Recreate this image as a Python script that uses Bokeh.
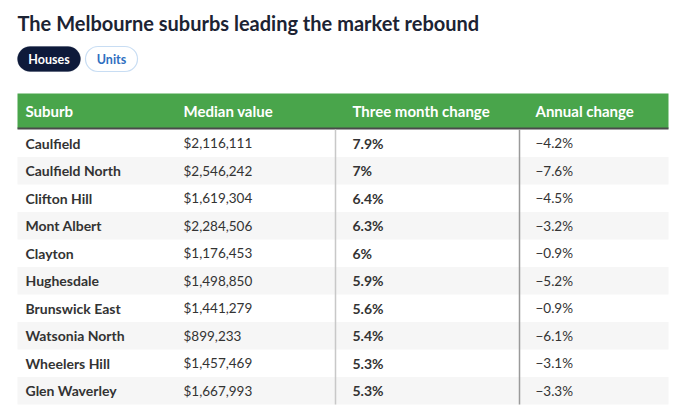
from bokeh.plotting import figure
from bokeh.models import Range1d, BoxAnnotation, ColumnDataSource
from bokeh.core.properties import value
from bokeh.embed import file_html
from bokeh.resources import INLINE

title = "The Melbourne suburbs leading the market rebound"
tabs = ["Houses", "Units"]
columns = ["Suburb", "Median value", "Three month change", "Annual change"]
suburbs = ["Caulfield", "Caulfield North", "Clifton Hill", "Mont Albert", "Clayton",
           "Hughesdale", "Brunswick East", "Watsonia North", "Wheelers Hill", "Glen Waverley"]
median_value = [2116111, 2546242, 1619304, 2284506, 1176453,
                1498850, 1441279, 899233, 1457469, 1667993]
three_month_change = [7.9, 7, 6.4, 6.3, 6, 5.9, 5.6, 5.4, 5.3, 5.3]
annual_change = [-4.2, -7.6, -4.5, -3.2, -0.9, -5.2, -0.9, -6.1, -3.1, -3.3]

W, H = 675, 411
FONT = "Lato"
p = figure(width=W, height=H, output_backend="svg", toolbar_location=None,
           x_range=Range1d(0, W), y_range=Range1d(H, 0), min_border=0)
p.axis.visible = False
p.grid.visible = False
p.outline_line_color = None
p.background_fill_color = "white"

# layout constants (pixels)
left, right = 17, 668
head_top, head_bot = 93, 128
row_h = 27.5
col_x = [25, 183, 352, 535]
n = len(suburbs)

# title
p.text(x=[17], y=[22], text=[title], text_font=value(FONT), text_font_style="bold",
       text_font_size="20px", text_color="#1c2333", text_baseline="middle")

# tabs
p.add_layout(BoxAnnotation(left=17, right=80, top=46, bottom=71, fill_color="#0e1a3a",
                           fill_alpha=1, line_color="#0e1a3a", border_radius=13,
                           level="underlay"))
p.add_layout(BoxAnnotation(left=85, right=137, top=46, bottom=71, fill_color="white",
                           fill_alpha=1, line_color="#4a8fd6", line_width=1.2,
                           border_radius=13, level="underlay"))
p.text(x=[48.5, 111], y=[58.5, 58.5], text=tabs, text_font=value(FONT),
       text_font_style="bold", text_font_size="12.5px", text_color=["white", "#2f6fc0"],
       text_align="center", text_baseline="middle")

# header
p.quad(left=[left], right=[right], top=[head_top], bottom=[head_bot],
       fill_color="#49a54b", line_color=None)
p.segment(x0=[left], x1=[right], y0=[head_bot], y1=[head_bot], line_color="#4a4a4a",
          line_width=2)
p.text(x=col_x, y=[(head_top + head_bot) / 2] * 4, text=columns, text_font=value(FONT),
       text_font_style="bold", text_font_size="15px", text_color="white",
       text_baseline="middle")

# rows
tops = [head_bot + 1 + i * row_h for i in range(n)]
bots = [t + row_h for t in tops]
stripe_idx = [i for i in range(n) if i % 2 == 1]
p.quad(left=[left] * len(stripe_idx), right=[right] * len(stripe_idx),
       top=[tops[i] for i in stripe_idx], bottom=[bots[i] for i in stripe_idx],
       fill_color="#f6f6f6", line_color=None)

ys = [(t + b) / 2 for t, b in zip(tops, bots)]
src = ColumnDataSource(dict(
    y=ys,
    suburb=suburbs,
    median=["${:,}".format(v) for v in median_value],
    three=["{:g}%".format(v) for v in three_month_change],
    annual=["\u2212{:g}%".format(abs(v)) if v < 0 else "{:g}%".format(v) for v in annual_change],
))
common = dict(y="y", source=src, text_font=value(FONT),
              text_color="#333333", text_baseline="middle")
p.text(x=col_x[0], text="suburb", text_font_style="bold", text_font_size="14px", **common)
p.text(x=col_x[1], text="median", text_font_size="13.5px", **common)
p.text(x=col_x[2], text="three", text_font_style="bold", text_font_size="14px", **common)
p.text(x=col_x[3], text="annual", text_font_size="13.5px", **common)

# vertical dividers
p.segment(x0=[335, 519], x1=[335, 519], y0=[head_bot + 1] * 2, y1=[bots[-1]] * 2,
          line_color=["#c8c8c8", "#9a9a9a"], line_width=1.5)

open("out.html", "w").write(file_html(p, INLINE))
